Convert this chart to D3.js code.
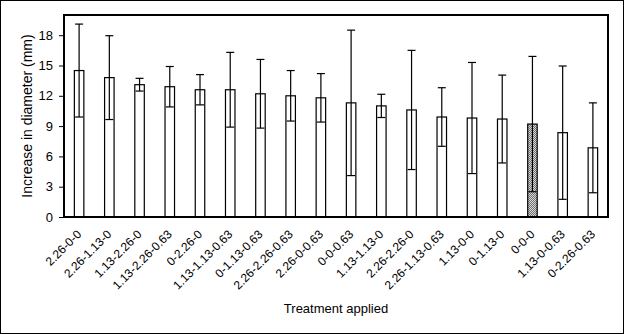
<!DOCTYPE html>
<html>
<head>
<meta charset="utf-8">
<script src="https://cdn.jsdelivr.net/npm/d3@7"></script>
<style>
  body { margin: 0; background: #fff; }
  svg { display: block; font-family: "Liberation Sans", Arial, sans-serif; }
</style>
</head>
<body>
<div id="chart"></div>
<script>
// Data
const treatments = [
    '2.26-0-0', '2.26-1.13-0', '1.13-2.26-0', '1.13-2.26-0.63', '0-2.26-0',
    '1.13-1.13-0.63', '0-1.13-0.63', '2.26-2.26-0.63', '2.26-0-0.63', '0-0-0.63',
    '1.13-1.13-0', '2.26-2.26-0', '2.26-1.13-0.63', '1.13-0-0', '0-1.13-0',
    '0-0-0', '1.13-0-0.63', '0-2.26-0.63'
];
const meanIncrease = [14.5, 13.8, 13.1, 12.9, 12.6, 12.6, 12.2, 12.0, 11.8, 11.3,
    11.0, 10.6, 9.9, 9.8, 9.7, 9.2, 8.35, 6.85];
const errValues = [4.6, 4.15, 0.63, 2.0, 1.5, 3.7, 3.4, 2.5, 2.4, 7.2,
    1.15, 5.9, 2.9, 5.5, 4.35, 6.7, 6.6, 4.45];
const controlTreatment = '0-0-0';
const yTicks = [0, 3, 6, 9, 12, 15, 18];

const data = treatments.map((t, i) => ({ t, v: meanIncrease[i], e: errValues[i] }));

const W = 624, H = 334;
const margin = { top: 15, right: 16, bottom: 117, left: 64 };
const width = W - margin.left - margin.right;
const height = H - margin.top - margin.bottom;

const svg = d3.select('#chart').append('svg')
    .attr('width', W).attr('height', H);

// Pola kotak-kotak untuk bar kontrol
const defs = svg.append('defs');
const pat = defs.append('pattern')
    .attr('id', 'checker')
    .attr('width', 2).attr('height', 2)
    .attr('patternUnits', 'userSpaceOnUse');
pat.append('rect').attr('width', 2).attr('height', 2).attr('fill', '#d8d8d8');
pat.append('rect').attr('width', 1).attr('height', 1).attr('fill', '#707070');
pat.append('rect').attr('x', 1).attr('y', 1).attr('width', 1).attr('height', 1).attr('fill', '#707070');

// Bingkai luar
svg.append('rect')
    .attr('x', 0.5).attr('y', 0.5)
    .attr('width', W - 1).attr('height', H - 1)
    .attr('fill', 'none').attr('stroke', '#000').attr('stroke-width', 1);

const g = svg.append('g')
    .attr('transform', `translate(${margin.left},${margin.top})`);

const x = d3.scaleBand().domain(treatments).range([0, width]);
const y = d3.scaleLinear().domain([0, 20]).range([height, 0]);

const barW = 9.5;
const capW = 8;

// Bars
g.selectAll('.bar')
    .data(data)
    .enter().append('rect')
    .attr('class', 'bar')
    .attr('x', d => x(d.t) + x.bandwidth() / 2 - barW / 2)
    .attr('y', d => y(d.v))
    .attr('width', barW)
    .attr('height', d => height - y(d.v))
    .attr('fill', d => d.t === controlTreatment ? 'url(#checker)' : '#fff')
    .attr('stroke', '#000')
    .attr('stroke-width', 1.2);

// Error bars
const eb = g.selectAll('.err')
    .data(data)
    .enter().append('g')
    .attr('class', 'err')
    .attr('stroke', '#000')
    .attr('stroke-width', 1.2);

eb.append('line')
    .attr('x1', d => x(d.t) + x.bandwidth() / 2)
    .attr('x2', d => x(d.t) + x.bandwidth() / 2)
    .attr('y1', d => y(d.v + d.e))
    .attr('y2', d => y(d.v - d.e));
eb.append('line')
    .attr('x1', d => x(d.t) + x.bandwidth() / 2 - capW / 2)
    .attr('x2', d => x(d.t) + x.bandwidth() / 2 + capW / 2)
    .attr('y1', d => y(d.v + d.e))
    .attr('y2', d => y(d.v + d.e));
eb.append('line')
    .attr('x1', d => x(d.t) + x.bandwidth() / 2 - capW / 2)
    .attr('x2', d => x(d.t) + x.bandwidth() / 2 + capW / 2)
    .attr('y1', d => y(d.v - d.e))
    .attr('y2', d => y(d.v - d.e));

// Y axis
const yAxis = g.append('g')
    .call(d3.axisLeft(y).tickValues(yTicks).tickSize(5).tickPadding(6));
yAxis.select('.domain').remove();
yAxis.selectAll('text').style('font-size', '13px').attr('fill', '#000');
yAxis.selectAll('line').attr('stroke', '#000');

// X axis
const xAxis = g.append('g')
    .attr('transform', `translate(0,${height})`)
    .call(d3.axisBottom(x).tickSize(0).tickPadding(0));
xAxis.select('.domain').remove();
xAxis.selectAll('text')
    .style('font-size', '12px')
    .attr('fill', '#000')
    .attr('text-anchor', 'end')
    .attr('dy', 0)
    .attr('transform', 'translate(3,18) rotate(-45)');

// Bingkai plot
g.append('rect')
    .attr('x', 0).attr('y', 0)
    .attr('width', width).attr('height', height)
    .attr('fill', 'none').attr('stroke', '#000').attr('stroke-width', 2);

// Judul sumbu
svg.append('text')
    .attr('transform', `translate(32,${margin.top + height / 2}) rotate(-90)`)
    .attr('text-anchor', 'middle')
    .style('font-size', '14px')
    .text('Increase in diameter (mm)');

svg.append('text')
    .attr('x', margin.left + width / 2)
    .attr('y', 313)
    .attr('text-anchor', 'middle')
    .style('font-size', '13px')
    .text('Treatment applied');
</script>
</body>
</html>
